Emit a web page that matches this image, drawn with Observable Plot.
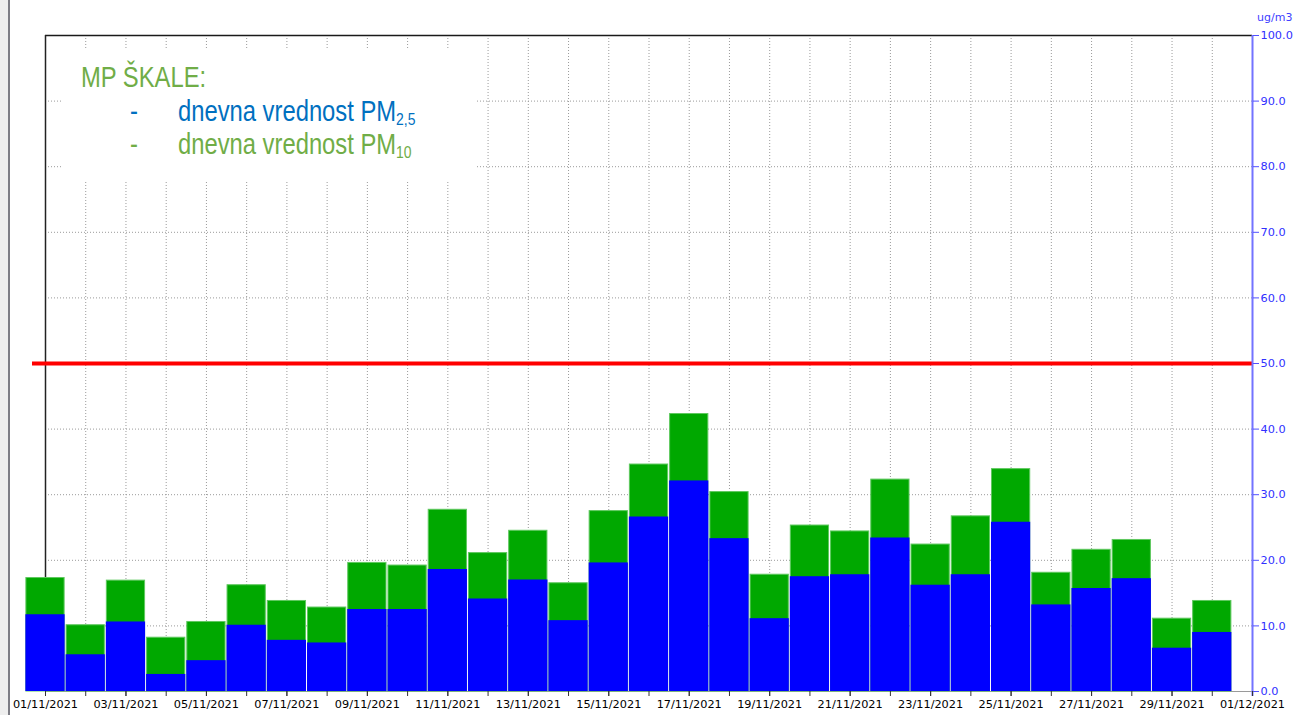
<!DOCTYPE html>
<html>
<head>
<meta charset="utf-8">
<script src="https://cdn.jsdelivr.net/npm/d3@7"></script>
<script src="https://cdn.jsdelivr.net/npm/@observablehq/plot@0.6"></script>
<style>
  html, body { margin: 0; padding: 0; background: #fff; }
  #wrap { position: relative; width: 1295px; height: 715px; overflow: hidden; }
  #strip { position: absolute; left: 0; top: 0; width: 8px; height: 715px; background: #eeeeee; }
  #strip2 { position: absolute; left: 8px; top: 0; width: 2px; height: 715px; background: #7d7d85; }
  #legend { position: absolute; left: 62px; top: 48px; width: 413px; height: 134px; background: #fff;
            font-family: "Liberation Sans", Arial, sans-serif; font-size: 29px; }
  #legend div { position: absolute; white-space: nowrap; line-height: 1; transform: scaleX(0.82); transform-origin: 0 0; }
  #legend sub { font-size: 17px; vertical-align: baseline; position: relative; top: 4px; }
  #unit { position: absolute; left: 1257px; top: 11px; font-family: "DejaVu Sans", sans-serif; font-size: 11px; color: #4040ff; }
</style>
</head>
<body>
<div id="wrap">
  <div id="chart"></div>
  <div id="strip"></div>
  <div id="strip2"></div>
  <div id="legend"></div>
  <div id="unit"></div>
</div>
<script>
const days = ["2021-11-01","2021-11-02","2021-11-03","2021-11-04","2021-11-05","2021-11-06","2021-11-07","2021-11-08","2021-11-09","2021-11-10",
              "2021-11-11","2021-11-12","2021-11-13","2021-11-14","2021-11-15","2021-11-16","2021-11-17","2021-11-18","2021-11-19","2021-11-20",
              "2021-11-21","2021-11-22","2021-11-23","2021-11-24","2021-11-25","2021-11-26","2021-11-27","2021-11-28","2021-11-29","2021-11-30"];
const pm10 = [17.3,10.1,16.9,8.2,10.6,16.2,13.8,12.8,19.6,19.2,27.7,21.1,24.5,16.5,27.5,34.6,42.3,30.4,17.8,25.3,24.4,32.3,22.4,26.7,33.9,18.1,21.6,23.1,11.1,13.8];
const pm25 = [11.7,5.6,10.6,2.6,4.7,10.1,7.8,7.4,12.5,12.5,18.6,14.1,17.0,10.8,19.6,26.6,32.1,23.3,11.1,17.5,17.8,23.4,16.2,17.8,25.8,13.2,15.7,17.2,6.6,9.0];
const limitValue = 50;
const yTicks = [0,10,20,30,40,50,60,70,80,90,100];
const domainStart = "2021-11-01";
const domainEnd = "2021-12-01";
const unitLabel = "ug/m3";
const legendTitle = "MP ŠKALE:";
const legendLine = "dnevna vrednost PM";
const sub25 = "2,5";
const sub10 = "10";

const HALF = 12 * 3600 * 1000;
const data = days.map((d, i) => {
  const t = new Date(d + "T00:00:00Z");
  return {date: t, a: new Date(+t - HALF), b: new Date(+t + HALF), pm10: pm10[i], pm25: pm25[i]};
});
const x0 = new Date(domainStart + "T00:00:00Z");
const x1 = new Date(domainEnd + "T00:00:00Z");

const chart = Plot.plot({
  width: 1295,
  height: 715,
  marginLeft: 45,
  marginRight: 43,
  marginTop: 35,
  marginBottom: 24,
  style: {fontFamily: "DejaVu Sans, sans-serif", fontSize: "11.3px", background: "transparent", overflow: "visible"},
  x: {type: "utc", domain: [x0, x1]},
  y: {domain: [0, 100]},
  marks: [
    Plot.gridY(yTicks.filter(v => v > 0 && v < 100), {stroke: "#9a9a9a", strokeOpacity: 1, strokeDasharray: "1,2"}),
    Plot.gridX(data.slice(1).map(d => d.date), {stroke: "#9a9a9a", strokeOpacity: 1, strokeDasharray: "1,2"}),
    Plot.ruleY([100], {stroke: "#1a1a1a", strokeWidth: 1.5}),
    Plot.ruleX([x0], {stroke: "#222", strokeWidth: 1.5}),
    Plot.ruleY([0], {stroke: "#9a9a9a"}),
    Plot.rectY(data, {x1: "a", x2: "b", y1: 0, y2: "pm10", fill: "#00a800", stroke: "#5fc85f", strokeWidth: 1, insetLeft: 1, insetRight: 1}),
    Plot.rectY(data, {x1: "a", x2: "b", y1: 0, y2: "pm25", fill: "#0000ff", insetLeft: 0.5, insetRight: 0.5}),
    Plot.ruleY([limitValue], {stroke: "#ff0000", strokeWidth: 4, insetLeft: -13}),
    Plot.ruleX([x1], {stroke: "#7373ff", strokeWidth: 2, insetBottom: -5}),
    Plot.axisX({ticks: d3.utcDay, tickFormat: () => "", tickSize: 5, stroke: "#333"}),
    Plot.axisX({ticks: d3.utcDay.every(2), tickFormat: d3.utcFormat("%d/%m/%Y"), tickSize: 5, tickPadding: 3, fill: "#000", stroke: "#333", label: null}),
    Plot.axisY({anchor: "right", ticks: yTicks, tickFormat: d3.format(".1f"), tickSize: 6, tickPadding: 2, stroke: "#5050ff", fill: "#3030ff", label: null})
  ]
});
document.getElementById("chart").appendChild(chart);

document.getElementById("unit").textContent = unitLabel;
const legend = document.getElementById("legend");
function addLine(left, top, text, color, sub) {
  const el = document.createElement("div");
  el.style.left = left + "px";
  el.style.top = top + "px";
  el.style.color = color;
  el.textContent = text;
  if (sub) {
    const s = document.createElement("sub");
    s.textContent = sub;
    el.appendChild(s);
  }
  legend.appendChild(el);
}
addLine(19, 15, legendTitle, "#70ad47");
addLine(68, 49, "-", "#0070c0");
addLine(116, 49, legendLine, "#0070c0", sub25);
addLine(68, 82, "-", "#70ad47");
addLine(116, 82, legendLine, "#70ad47", sub10);
</script>
</body>
</html>
